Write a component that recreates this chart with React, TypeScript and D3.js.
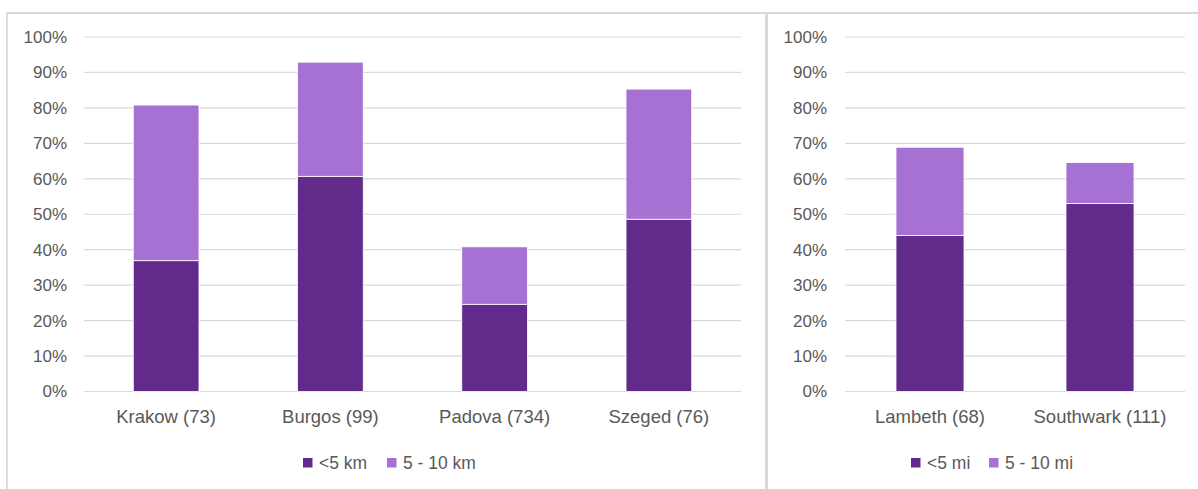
import React from "react";
import * as d3 from "d3";

const leftCategories = ["Krakow (73)", "Burgos (99)", "Padova (734)", "Szeged (76)"];
const leftUnder5 = [0.369, 0.607, 0.246, 0.486];
const left5to10 = [0.439, 0.322, 0.162, 0.367];
const leftLegend = ["<5 km", "5 - 10 km"];

const rightCategories = ["Lambeth (68)", "Southwark (111)"];
const rightUnder5 = [0.44, 0.53];
const right5to10 = [0.249, 0.116];
const rightLegend = ["<5 mi", "5 - 10 mi"];

const yTicks = [0, 0.1, 0.2, 0.3, 0.4, 0.5, 0.6, 0.7, 0.8, 0.9, 1.0];

const DARK = "#612A8B";
const LIGHT = "#A770D3";
const GRID = "#D9D9D9";
const TEXT = "#595959";
const FONT = "'Liberation Sans', Arial, sans-serif";

type PanelProps = {
  categories: string[];
  under5: number[];
  over5: number[];
  legend: string[];
  x0: number;
  x1: number;
  labelRight: number;
  legendX: number;
  legendGap: number;
};

function Panel({ categories, under5, over5, legend, x0, x1, labelRight, legendX, legendGap }: PanelProps) {
  const y = d3.scaleLinear().domain([0, 1]).range([391.5, 37]);
  const x = d3.scaleBand<string>().domain(categories).range([x0, x1]).paddingInner(0.6).paddingOuter(0.3);
  const fmt = d3.format(".0%");
  const legendColors = [DARK, LIGHT];
  return (
    <g>
      {yTicks.map((t) => (
        <g key={t}>
          <line x1={x0} x2={x1} y1={y(t)} y2={y(t)} stroke={GRID} strokeWidth={1.2} />
          <text x={labelRight} y={y(t)} dy="0.35em" textAnchor="end" fontSize={17} fill={TEXT} fontFamily={FONT}>
            {fmt(t)}
          </text>
        </g>
      ))}
      {categories.map((c, i) => {
        const bx = x(c)!;
        const bw = x.bandwidth();
        return (
          <g key={c}>
            <rect x={bx} y={y(under5[i])} width={bw} height={y(0) - y(under5[i])} fill={DARK} stroke="#fff" strokeWidth={0.8} />
            <rect
              x={bx}
              y={y(under5[i] + over5[i])}
              width={bw}
              height={y(under5[i]) - y(under5[i] + over5[i])}
              fill={LIGHT}
              stroke="#fff"
              strokeWidth={0.8}
            />
            <text x={bx + bw / 2} y={417} dy="0.35em" textAnchor="middle" fontSize={18.5} fill={TEXT} fontFamily={FONT}>
              {c}
            </text>
          </g>
        );
      })}
      {legend.map((l, i) => {
        const lx = legendX + i * legendGap;
        return (
          <g key={l}>
            <rect x={lx} y={458} width={9.5} height={9.5} fill={legendColors[i]} />
            <text x={lx + 16} y={463} dy="0.35em" fontSize={17.5} fill={TEXT} fontFamily={FONT}>
              {l}
            </text>
          </g>
        );
      })}
    </g>
  );
}

export default function App() {
  return (
    <svg width={1198} height={489} style={{ position: "absolute", left: 0, top: 0, background: "#fff" }}>
      <rect x={0} y={0} width={1198} height={489} fill="#fff" />
      <line x1={7} x2={1198} y1={13} y2={13} stroke={GRID} strokeWidth={1.8} />
      <line x1={7} x2={7} y1={13} y2={489} stroke={GRID} strokeWidth={1.8} />
      <line x1={766.5} x2={766.5} y1={13} y2={489} stroke={GRID} strokeWidth={3} />
      <Panel
        categories={leftCategories}
        under5={leftUnder5}
        over5={left5to10}
        legend={leftLegend}
        x0={84}
        x1={741}
        labelRight={67}
        legendX={303}
        legendGap={84}
      />
      <Panel
        categories={rightCategories}
        under5={rightUnder5}
        over5={right5to10}
        legend={rightLegend}
        x0={845}
        x1={1185}
        labelRight={827}
        legendX={911}
        legendGap={78}
      />
    </svg>
  );
}
